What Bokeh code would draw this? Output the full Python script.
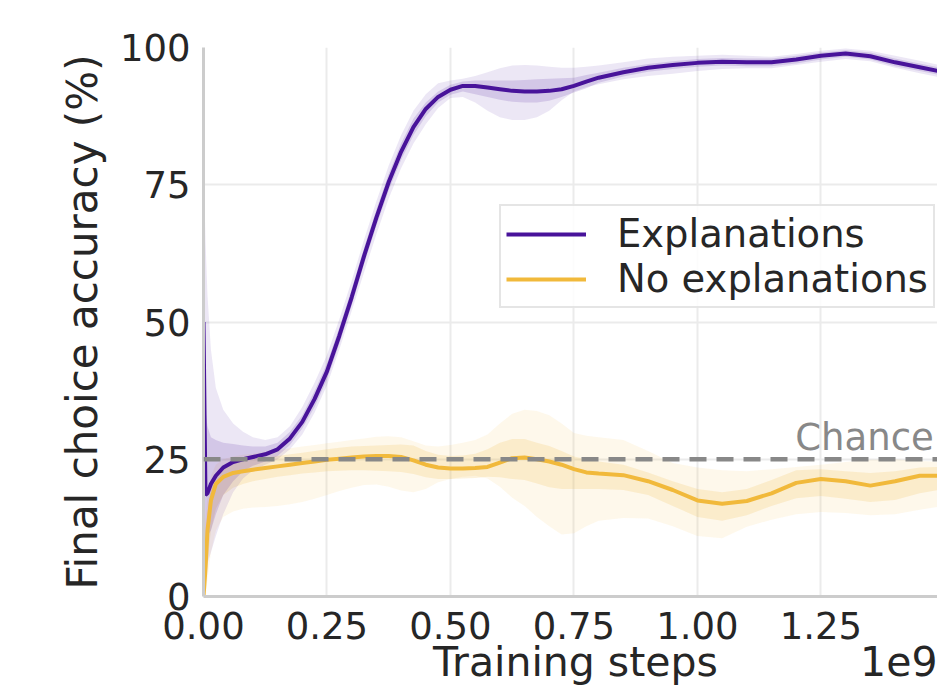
from bokeh.plotting import figure
from bokeh.models import (FixedTicker, PrintfTickFormatter, Label, Legend,
                          LegendItem, Span, ColumnDataSource, LinearAxis,
                          CustomJSTickFormatter)
from bokeh.embed import file_html
from bokeh.resources import INLINE

# ---- data (training steps in units of 1e9, accuracy in %) ----
steps = [0, 0.004, 0.008, 0.015, 0.025, 0.04, 0.06, 0.08, 0.10, 0.125,
         0.15, 0.175, 0.20, 0.225, 0.25, 0.275, 0.30, 0.325, 0.35, 0.375,
         0.40, 0.425, 0.45, 0.475, 0.50, 0.525, 0.55, 0.575, 0.60, 0.625,
         0.65, 0.675, 0.70, 0.725, 0.75, 0.775, 0.80, 0.85, 0.90, 0.95,
         1.00, 1.05, 1.10, 1.15, 1.20, 1.25, 1.30, 1.35, 1.40, 1.45, 1.50]

expl_mean = [50, 18.5, 18.8, 20.5, 22, 23.5, 24.5, 25, 25.4, 25.9,
             26.8, 28.8, 31.8, 36, 41, 47.5, 54.5, 62, 69, 75.5,
             81, 85.5, 88.8, 91, 92.3, 93, 93, 92.7, 92.4, 92.1,
             92, 92, 92.1, 92.4, 93, 93.8, 94.5, 95.5, 96.3, 96.8,
             97.2, 97.4, 97.3, 97.3, 97.8, 98.5, 98.9, 98.4, 97.3, 96.4, 95.5]
expl_out_hi = [80, 65, 55, 45, 38, 34, 31.5, 30, 29, 28.5,
               29, 31, 34.5, 39, 44, 50.5, 57.5, 65, 72, 78.5,
               84, 88.5, 91.5, 93.5, 94, 94.3, 94.8, 95.5, 96.2, 96.7,
               96.8, 96.7, 96.5, 96.3, 96.3, 96.5, 96.7, 97.3, 98, 98.3,
               98.5, 98.7, 98.5, 98.3, 98.8, 99.4, 99.8, 99.4, 98.5, 97.6, 96.6]
expl_out_lo = [0, 3, 6, 8, 11, 15, 19, 21.5, 23, 24,
               25, 26.8, 29.5, 33.5, 38.5, 45, 52, 59, 66, 72.5,
               78, 82.5, 86, 89, 90.8, 91, 90, 88.5, 87.3, 86.8,
               86.8, 87.3, 88.5, 90.4, 92, 92.8, 93.3, 94.2, 94.8, 95.2,
               95.7, 96.1, 96.2, 96.2, 96.8, 97.4, 97.9, 97.5, 96.3, 95.3, 94.4]
expl_in_hi = [50, 34, 31, 29, 28.5, 28, 27.8, 27.5, 27.3, 27.3,
              28, 30, 33, 37.5, 42.5, 49, 56, 63.5, 70.5, 77,
              82.5, 87, 90, 92, 93.2, 93.8, 94, 94, 94, 94,
              94.1, 94.2, 94.3, 94.4, 94.5, 95, 95.4, 96.3, 97, 97.5,
              97.9, 98.1, 98, 98, 98.5, 99.1, 99.5, 99.1, 98, 97.1, 96.2]
expl_in_lo = [10, 10, 11, 12, 15, 18.5, 21, 22.8, 23.8, 24.6,
              25.6, 27.6, 30.6, 34.5, 39.5, 46, 53, 60.5, 67.5, 74,
              79.5, 84, 87.5, 90, 91.4, 92, 91.5, 91, 90.5, 90.1,
              90, 90, 90.3, 91, 91.8, 92.6, 93.6, 94.7, 95.6, 96.1,
              96.5, 96.7, 96.6, 96.6, 97.1, 97.8, 98.3, 97.8, 96.6, 95.7, 94.8]

noexp_mean = [0, 5, 12, 17.5, 20.5, 21.8, 22.5, 22.8, 23.1, 23.4,
              23.7, 24, 24.3, 24.6, 24.9, 25.1, 25.3, 25.5, 25.6, 25.6,
              25.4, 24.8, 24, 23.5, 23.3, 23.3, 23.4, 23.6, 24.4, 25.2,
              25.3, 25, 24.6, 24, 23.2, 22.6, 22.4, 22.1, 21, 19.4,
              17.5, 16.9, 17.4, 18.8, 20.7, 21.4, 21, 20.2, 21, 22, 22]
noexp_out_hi = [10, 14, 18, 22, 24, 25, 25.5, 25.8, 26, 26.3,
                26.6, 27, 27.3, 27.6, 27.9, 28.2, 28.5, 28.8, 29.1, 29.2,
                29, 28.3, 27.5, 27.3, 27.6, 28, 28.5, 29.5, 31.5, 33.3,
                34, 33.8, 33, 31.5, 29.8, 29.3, 29, 28.5, 26.5, 24.3,
                23.5, 23, 22.8, 23.2, 23.6, 24, 24.5, 24.9, 25, 24.7, 24.5]
noexp_out_lo = [0, 0, 3, 8, 12, 14.5, 15.5, 16, 16.2, 16.3,
                16.5, 16.8, 17.2, 17.8, 18.5, 19.2, 19.8, 20.3, 20.4, 20,
                19.3, 19, 19.6, 20.8, 21.4, 21.8, 22, 21.5, 20, 18,
                16.5, 14.5, 12.8, 11.3, 11.5, 12.8, 13.8, 14.3, 14.2, 12.8,
                11, 10.6, 12.7, 14, 15, 15.4, 15.2, 14.8, 15, 15.8, 16.5]
noexp_in_hi = [3, 9, 15, 20, 22.5, 23.5, 24.2, 24.6, 25, 25.3,
               25.6, 25.9, 26.2, 26.5, 26.8, 27.1, 27.3, 27.4, 27.5, 27.6,
               27.7, 27.5, 26.5, 25.8, 25.6, 25.7, 26, 26.8, 28, 28.7,
               28.7, 28, 27.4, 26.5, 25.5, 25, 24.6, 24, 22.6, 21,
               19.6, 19, 19.6, 21.2, 23, 23.2, 22.8, 22.5, 22.8, 23.5, 23.6]
noexp_in_lo = [0, 1, 6, 12, 16, 18.5, 19.8, 20.5, 21, 21.4,
               21.8, 22.1, 22.4, 22.6, 22.8, 22.9, 23, 23, 22.9, 22.8,
               22.7, 22.3, 21.7, 21.4, 21.4, 21.5, 21.6, 21.8, 21.7, 21.4,
               21.2, 20.6, 19.9, 19.6, 19.6, 19.6, 19.6, 19.4, 18.5, 16.5,
               14.5, 13.8, 14.8, 16.5, 17.9, 18.3, 17.8, 17.2, 17.6, 18.8, 19.6]

chance = 25
x_end = 1.486                      # visible end of the (cropped) x axis
x_ticks = [0, 0.25, 0.5, 0.75, 1.0, 1.25, 1.5]
y_ticks = [0, 25, 50, 75, 100]
x_label = "Training steps"
x_scale_label = "1e9"

PURPLE = "#48139a"
YELLOW = "#f1b93b"
FONT = "DejaVu Sans"
TXT = "#262626"

src = ColumnDataSource(dict(x=steps, em=expl_mean, eoh=expl_out_hi, eol=expl_out_lo,
                            eih=expl_in_hi, eil=expl_in_lo, nm=noexp_mean,
                            noh=noexp_out_hi, nol=noexp_out_lo,
                            nih=noexp_in_hi, nil=noexp_in_lo))

p = figure(width=937, height=688, x_range=(0, x_end), y_range=(0, 100),
           output_backend="svg", toolbar_location=None,
           min_border_left=203, min_border_right=0, min_border_top=47,
           min_border_bottom=90)
p.outline_line_color = None
p.background_fill_color = "white"

# bands
p.varea(x="x", y1="nol", y2="noh", source=src, fill_color=YELLOW, fill_alpha=0.1)
p.varea(x="x", y1="nil", y2="nih", source=src, fill_color=YELLOW, fill_alpha=0.18)
p.varea(x="x", y1="eol", y2="eoh", source=src, fill_color=PURPLE, fill_alpha=0.1)
p.varea(x="x", y1="eil", y2="eih", source=src, fill_color=PURPLE, fill_alpha=0.15)

chance_span = Span(location=chance, dimension="width", line_color="#888888",
                   line_width=4.5, line_dash="17 10")
p.add_layout(chance_span)

l_exp = p.line(x="x", y="em", source=src, line_color=PURPLE, line_width=4)
l_no = p.line(x="x", y="nm", source=src, line_color=YELLOW, line_width=4)

# axes
for ax in (p.xaxis[0], p.yaxis[0]):
    ax.axis_line_color = "#cccccc"
    ax.axis_line_width = 3
    ax.major_tick_line_color = None
    ax.minor_tick_line_color = None
    ax.major_tick_out = 0
    ax.major_label_text_font = FONT
    ax.major_label_text_font_size = "37px"
    ax.major_label_text_color = TXT
    ax.axis_label_text_font = FONT
    ax.axis_label_text_font_size = "42px"
    ax.axis_label_text_color = TXT
    ax.axis_label_text_font_style = "normal"

p.xaxis.ticker = FixedTicker(ticks=x_ticks)
p.xaxis.formatter = PrintfTickFormatter(format="%.2f")
p.yaxis.ticker = FixedTicker(ticks=y_ticks)
p.yaxis.formatter = PrintfTickFormatter(format="%d")
p.yaxis.major_label_standoff = 13
p.xaxis.major_label_standoff = 15
p.yaxis.axis_label = "Final choice accuracy (%)"
p.yaxis.axis_label_standoff = 10

# second row below the x axis: axis title + scale factor "1e9"
lab_axis = LinearAxis(ticker=FixedTicker(ticks=[0.753, 1.435]),
                      formatter=CustomJSTickFormatter(
                          args=dict(a=x_label, b=x_scale_label),
                          code="return tick < 1 ? a : b;"))
lab_axis.axis_line_color = None
lab_axis.major_tick_line_color = None
lab_axis.minor_tick_line_color = None
lab_axis.major_tick_out = 0
lab_axis.major_label_standoff = -4
lab_axis.major_label_text_font = FONT
lab_axis.major_label_text_font_size = "41px"
lab_axis.major_label_text_color = TXT
p.add_layout(lab_axis, "below")

p.xgrid.ticker = FixedTicker(ticks=x_ticks)
p.ygrid.ticker = FixedTicker(ticks=y_ticks)
p.grid.grid_line_color = "#ebebeb"
p.grid.grid_line_width = 2

p.add_layout(Label(x=1.198, y=chance, y_offset=22, text="Chance",
                   text_font=FONT, text_font_size="37px", text_color="#888888",
                   text_align="left", text_baseline="alphabetic"))

legend = Legend(items=[LegendItem(label="Explanations", renderers=[l_exp]),
                       LegendItem(label="No explanations", renderers=[l_no])],
                location=(296, 288))
legend.label_text_font = FONT
legend.label_text_font_size = "38.5px"
legend.label_text_color = TXT
legend.glyph_width = 80
legend.glyph_height = 20
legend.label_standoff = 31
legend.padding = 5
legend.spacing = 0
legend.margin = 0
legend.border_line_color = "#cccccc"
legend.border_line_width = 2
legend.background_fill_alpha = 0.85
p.add_layout(legend)

open("out.html", "w").write(file_html(p, INLINE))
